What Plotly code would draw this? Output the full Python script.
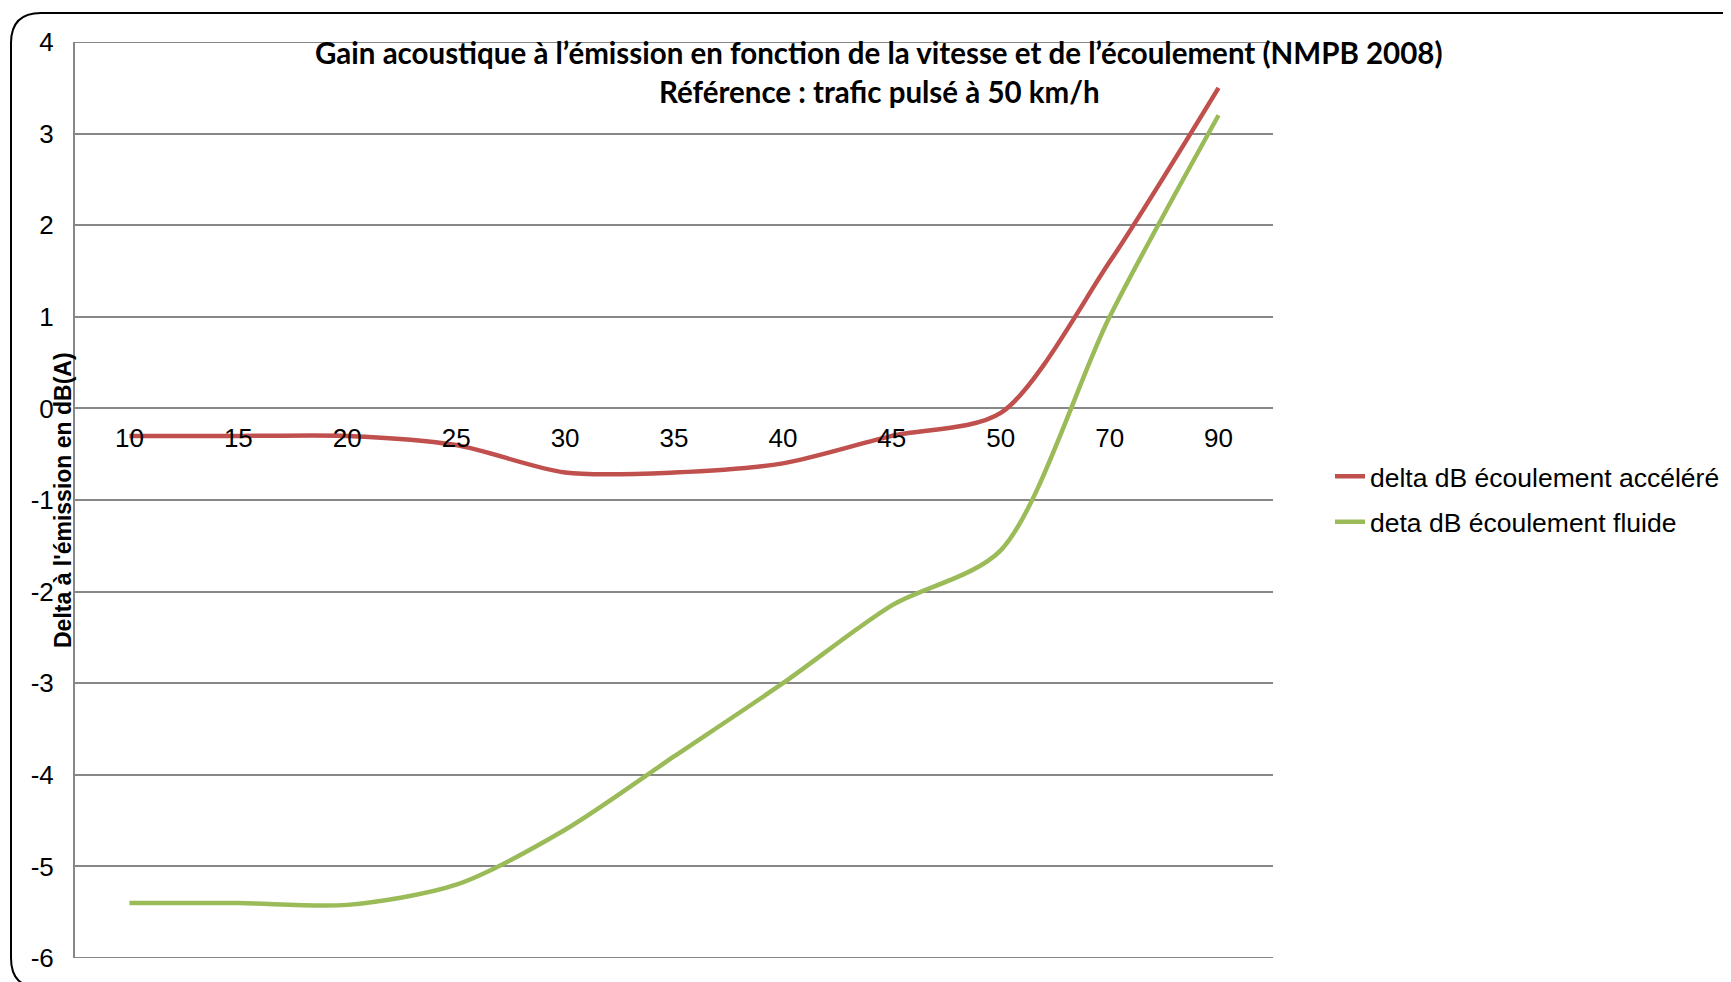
import plotly.graph_objects as go

# Données
vitesses = ["10", "15", "20", "25", "30", "35", "40", "45", "50", "70", "90"]
delta_accelere = [-0.3, -0.3, -0.3, -0.4, -0.7, -0.7, -0.6, -0.3, -0.05, 1.6, 3.5]
delta_fluide = [-5.4, -5.4, -5.42, -5.2, -4.6, -3.8, -3.0, -2.15, -1.55, 1.0, 3.2]
graduations_y = [-6, -5, -4, -3, -2, -1, 0, 1, 2, 3, 4]

W, H = 1731, 982
OFF = 8  # marge du <body>
L, R, T, B = 75 - OFF, 1273 - OFF, 42 - OFF, 958 - OFF  # zone de tracé (pixels figure)


def px(x):
    return (x - OFF - L) / (R - L)


def py(y):
    return (B - (y - OFF)) / (B - T)


RED = "#C0504D"
GREEN = "#9BBB59"
GRID = "#878787"

fig = go.Figure()
fig.add_trace(go.Scatter(
    x=vitesses, y=delta_accelere, mode="lines",
    line=dict(color=RED, width=4.5, shape="spline", smoothing=0.8),
    name="delta dB écoulement accéléré", legendgroup="a",
))
fig.add_trace(go.Scatter(
    x=vitesses, y=delta_fluide, mode="lines",
    line=dict(color=GREEN, width=4.5, shape="spline", smoothing=0.8),
    name="deta dB écoulement fluide", legendgroup="b",
))

# lignes de grille extrêmes (Plotly les masque en bord de zone)
for g in (graduations_y[0], graduations_y[-1]):
    fig.add_hline(y=g, line=dict(color=GRID, width=2), layer="below")

# cadre arrondi (bords droit et bas hors du cadre de l'image)
x0, x1, y0, y1 = px(11), px(1750), py(13), py(988)
rx, ry = 30 / (R - L), 30 / (B - T)
path = (f"M {x0},{y0 - ry} Q {x0},{y0} {x0 + rx},{y0} "
        f"L {x1 - rx},{y0} Q {x1},{y0} {x1},{y0 - ry} "
        f"L {x1},{y1 + ry} Q {x1},{y1} {x1 - rx},{y1} "
        f"L {x0 + rx},{y1} Q {x0},{y1} {x0},{y1 + ry} Z")
fig.add_shape(type="path", path=path, xref="paper", yref="paper",
              line=dict(color="black", width=2), layer="below")

title_font = dict(family="Lato, sans-serif", size=29.5, color="black")
fig.add_annotation(
    text="<b>Gain acoustique à l’émission en fonction de la vitesse et de l’écoulement (NMPB 2008)</b>",
    xref="paper", yref="paper", x=px(879), y=py(53), showarrow=False,
    xanchor="center", yanchor="middle", font=title_font)
fig.add_annotation(
    text="<b>Référence : trafic pulsé à 50 km/h</b>",
    xref="paper", yref="paper", x=px(879), y=py(92), showarrow=False,
    xanchor="center", yanchor="middle", font=title_font)
fig.add_annotation(
    text="<b>Delta à l'émission en dB(A)</b>",
    xref="paper", yref="paper", x=px(63), y=py(500), showarrow=False,
    textangle=-90, xanchor="center", yanchor="middle",
    font=dict(family="Liberation Sans, Arial", size=23, color="black"))

fig.update_layout(
    width=W, height=H,
    margin=dict(l=L, r=W - R, t=T, b=H - B),
    plot_bgcolor="white", paper_bgcolor="white",
    font=dict(family="Liberation Sans, Arial", size=26, color="black"),
    showlegend=True,
    legend=dict(x=px(1330), y=py(499), xanchor="left", yanchor="middle",
                font=dict(size=26.5), tracegroupgap=8,
                bgcolor="rgba(0,0,0,0)"),
)
fig.update_yaxes(range=[-6, 4], tickvals=graduations_y,
                 ticktext=[str(v) for v in graduations_y],
                 showgrid=True, gridcolor=GRID, gridwidth=2,
                 zeroline=False, showline=True, linecolor=GRID, linewidth=2,
                 ticks="", ticklabelstandoff=14)
fig.update_xaxes(type="category", range=[-0.5, len(vitesses) - 0.5],
                 anchor="free", position=0.6,
                 showgrid=False, zeroline=False, showline=False, ticks="",
                 ticklabelstandoff=12)

fig.write_html("out.html")
